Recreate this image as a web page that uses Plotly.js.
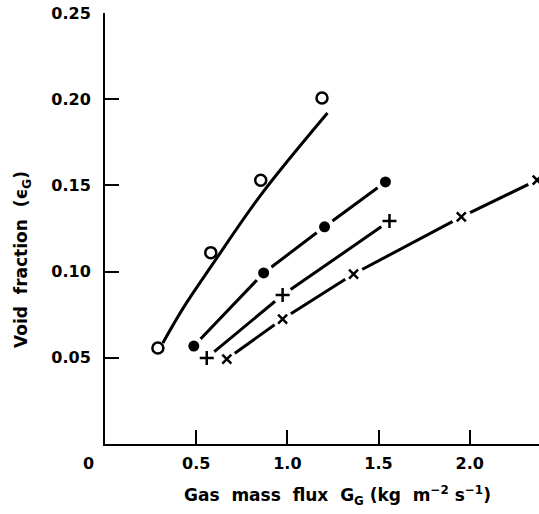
<!DOCTYPE html>
<html>
<head>
<meta charset="utf-8">
<script src="https://cdn.plot.ly/plotly-3.0.1.min.js"></script>
<style>html,body{margin:0;padding:0;background:#fff}#chart{width:539px;height:514px}</style>
</head>
<body>
<div id="chart"></div>
<script>
// Open circles and their fitted curve
const openX = [0.29, 0.58, 0.854, 1.19];
const openY = [0.0557, 0.111, 0.153, 0.2007];
const openFitX = [0.317, 0.432, 0.58, 0.854, 1.22];
const openFitY = [0.0586, 0.0794, 0.1027, 0.1444, 0.192];
// Filled circles
const filledX = [0.487, 0.87, 1.204, 1.538];
const filledY = [0.0568, 0.0992, 0.126, 0.152];
// Plus markers
const plusX = [0.558, 0.974, 1.56];
const plusY = [0.0499, 0.0864, 0.1293];
// Cross markers
const crossX = [0.668, 0.974, 1.363, 1.954, 2.37];
const crossY = [0.0493, 0.0725, 0.0986, 0.1317, 0.1531];

const xTicks = [0.5, 1.0, 1.5, 2.0];
const xTickText = ['0.5', '1.0', '1.5', '2.0'];
const yTicks = [0.05, 0.10, 0.15, 0.20, 0.25];
const yTickText = ['0.05', '0.10', '0.15', '0.20', '0.25'];

const LW = 3;
const lineStyle = {color: '#000', width: LW};
const haloX = filledX.concat(plusX, crossX);
const haloY = filledY.concat(plusY, crossY);

const traces = [
  {x: openFitX, y: openFitY, mode: 'lines', line: Object.assign({shape: 'spline'}, lineStyle), hoverinfo: 'skip'},
  {x: filledX, y: filledY, mode: 'lines', line: lineStyle},
  {x: plusX, y: plusY, mode: 'lines', line: lineStyle},
  {x: crossX, y: crossY, mode: 'lines', line: lineStyle},
  {x: haloX, y: haloY, mode: 'markers', marker: {symbol: 'circle', size: 20, color: '#fff', opacity: 1, line: {width: 0}}, hoverinfo: 'skip'},
  {x: openX, y: openY, mode: 'markers', marker: {symbol: 'circle-open', size: 11, color: '#000', line: {width: 2.5, color: '#000'}}},
  {x: filledX, y: filledY, mode: 'markers', marker: {symbol: 'circle', size: 11, color: '#000'}},
  {x: plusX, y: plusY, mode: 'markers', marker: {symbol: 'cross-thin', size: 10, color: '#000', line: {width: 2.5, color: '#000'}}},
  {x: crossX, y: crossY, mode: 'markers', marker: {symbol: 'x-thin', size: 9, color: '#000', line: {width: 2.5, color: '#000'}}}
];

const FONT = 'DejaVu Sans, Arial, sans-serif';
const layout = {
  width: 539, height: 514,
  margin: {l: 105, r: 0, t: 13, b: 70},
  showlegend: false,
  paper_bgcolor: '#fff', plot_bgcolor: '#fff',
  font: {family: FONT, color: '#000'},
  xaxis: {
    range: [0, 2.38], showline: true, linewidth: 2, linecolor: '#000',
    ticks: 'inside', ticklen: 14, tickwidth: 2, tickcolor: '#000',
    tickvals: xTicks, ticktext: xTickText, showgrid: false, zeroline: false,
    tickfont: {size: 16, family: FONT, weight: 'bold'}, ticklabelstandoff: 4
  },
  yaxis: {
    range: [0, 0.25], showline: true, linewidth: 2, linecolor: '#000',
    ticks: 'inside', ticklen: 14, tickwidth: 2, tickcolor: '#000',
    tickvals: yTicks, ticktext: yTickText, showgrid: false, zeroline: false,
    tickfont: {size: 16, family: FONT, weight: 'bold'}, ticklabelstandoff: 9
  },
  annotations: [
    {text: '0', xref: 'paper', yref: 'paper', x: (88 - 105) / 434, y: (444 - 463) / 431,
     showarrow: false, xanchor: 'center', yanchor: 'middle', font: {size: 16, family: FONT, weight: 'bold'}},
    {text: 'Void  fraction  (ϵ<sub>G</sub>)', xref: 'paper', yref: 'paper', textangle: -90,
     x: (22 - 105) / 434, y: (444 - 260) / 431, showarrow: false, xanchor: 'center', yanchor: 'middle',
     font: {size: 17, family: FONT, weight: 'bold'}},
    {text: 'Gas  mass  flux  G<sub>G</sub> (kg  m<sup>−2</sup> s<sup>−1</sup>)', xref: 'paper', yref: 'paper',
     x: (337 - 105) / 434, y: (444 - 495) / 431, showarrow: false, xanchor: 'center', yanchor: 'middle',
     font: {size: 17, family: FONT, weight: 'bold'}}
  ]
};

Plotly.newPlot('chart', traces, layout, {staticPlot: true, displayModeBar: false});
</script>
</body>
</html>
